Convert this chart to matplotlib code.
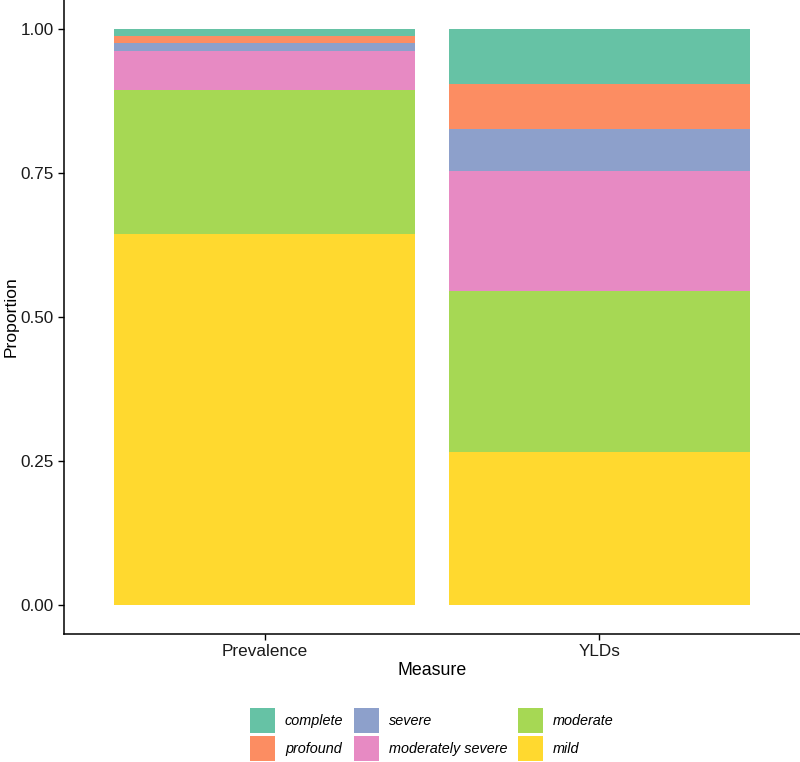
import matplotlib
matplotlib.use("Agg")
import matplotlib.pyplot as plt
from matplotlib.patches import Patch

plt.rcParams['font.family'] = ['Liberation Sans', 'DejaVu Sans']

measures = ["Prevalence", "YLDs"]
levels = ["mild", "moderate", "moderately severe", "severe", "profound", "complete"]
colors = {"complete": "#66c2a5", "profound": "#fc8d62", "severe": "#8da0cb",
          "moderately severe": "#e78ac3", "moderate": "#a6d854", "mild": "#ffd92f"}
prevalence = [0.644, 0.249, 0.069, 0.014, 0.011, 0.013]
ylds = [0.266, 0.279, 0.209, 0.072, 0.078, 0.096]

fig = plt.figure(figsize=(8.0, 7.62), dpi=100)
ax = fig.add_axes([0.08, 0.168, 0.92, 0.832])

x = [1, 2]
bottoms = [0.0, 0.0]
for i, lev in enumerate(levels):
    vals = [prevalence[i], ylds[i]]
    ax.bar(x, vals, width=0.9, bottom=bottoms, color=colors[lev], edgecolor='none')
    bottoms = [b + v for b, v in zip(bottoms, vals)]

ax.set_xlim(0.4, 2.6)
ax.set_ylim(-0.05, 1.05)
ax.set_xticks(x)
ax.set_xticklabels(measures)
ax.set_yticks([0, 0.25, 0.5, 0.75, 1.0])
ax.set_yticklabels(["0.00", "0.25", "0.50", "0.75", "1.00"])
for s in ['top', 'right']:
    ax.spines[s].set_visible(False)
for s in ['left', 'bottom']:
    ax.spines[s].set_linewidth(1.1)
    ax.spines[s].set_color('black')
ax.tick_params(axis='both', length=4, width=1, colors='black', labelsize=12.3, labelcolor='#1a1a1a')
ax.set_xlabel("Measure", fontsize=12.8, labelpad=2)
ax.set_ylabel("Proportion", fontsize=12.6, labelpad=1.2)

order = ["complete", "profound", "severe", "moderately severe", "moderate", "mild"]
handles = [Patch(facecolor=colors[o], edgecolor='none', label=o) for o in order]
leg = fig.legend(handles=handles, loc='upper center', bbox_to_anchor=(0.54, 0.0709), ncol=3,
                 frameon=False, prop={'style': 'italic', 'size': 10.4}, handlelength=1.73,
                 handleheight=2.29, handletextpad=0.68, columnspacing=0.75, labelspacing=0.2,
                 borderpad=0, borderaxespad=0)

fig.savefig("out.png", dpi=100)
